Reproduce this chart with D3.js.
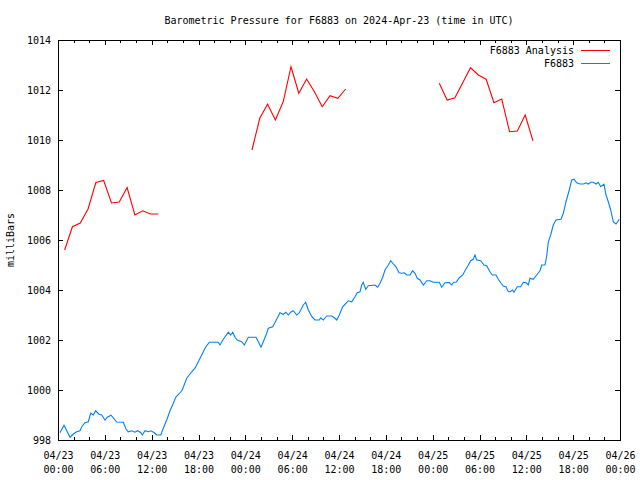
<!DOCTYPE html>
<html><head><meta charset="utf-8">
<script src="https://cdn.jsdelivr.net/npm/d3@7"></script>
<style>
body{margin:0;background:#fff;}
text{font-family:"DejaVu Sans Mono",monospace;font-size:10px;fill:#000;}
</style></head>
<body><svg id="c" width="640" height="480"></svg>
<script>
// hours after 2024-04-23 00:00 UTC
const analysisHours = [0.85,1.85,2.85,3.85,4.85,5.85,6.85,7.85,8.85,9.85,10.85,11.85,12.85,null,
  24.85,25.85,26.85,27.85,28.85,29.85,30.85,31.85,32.85,33.85,34.85,35.85,36.85,null,
  48.85,49.85,50.85,51.85,52.85,53.85,54.85,55.85,56.85,57.85,58.85,59.85,60.85];
const analysisValues = [1005.6,1006.53,1006.68,1007.24,1008.3,1008.38,1007.48,1007.52,1008.1,1007.0,1007.17,1007.04,1007.04,null,
  1009.6,1010.87,1011.43,1010.8,1011.53,1012.93,1011.87,1012.44,1011.93,1011.33,1011.77,1011.67,1012.04,null,
  1012.27,1011.6,1011.69,1012.29,1012.89,1012.6,1012.43,1011.49,1011.64,1010.33,1010.36,1011.0,1009.97];

const obsHours = [0.26,0.77,1.54,1.96,2.40,2.82,3.04,3.46,3.88,4.19,4.52,4.83,5.25,5.60,6.02,6.32,6.79,7.52,8.37,8.71,9.01,9.44,9.86,10.21,10.63,10.80,11.15,11.57,11.91,12.34,12.64,13.16,13.49,13.93,14.35,14.77,15.08,15.50,15.92,
  16.49,17.13,17.55,17.97,18.41,18.83,19.38,20.54,20.75,21.18,21.82,22.12,22.38,22.68,22.97,23.53,23.87,24.38,25.37,25.66,26.01,26.30,26.74,26.94,27.51,28.02,28.44,28.86,29.21,29.50,29.81,30.14,30.58,30.88,31.43,31.73,32.07,
  32.50,32.92,33.48,33.65,33.99,34.42,35.06,35.49,35.71,36.04,36.47,36.90,37.19,37.63,38.05,38.34,38.69,38.91,39.11,39.42,39.75,40.61,40.96,41.25,41.60,41.89,42.32,42.62,42.96,43.30,43.69,44.03,44.37,44.67,45.10,45.44,45.74,46.03,46.38,46.80,47.24,47.66,48.08,48.85,49.16,49.58,50.13,50.44,50.67,51.03,51.41,51.85,52.14,52.57,52.87,53.20,53.42,53.64,54.15,54.58,54.92,55.34,55.64,56.11,56.41,56.72,57.05,57.39,57.69,57.91,58.25,58.42,58.84,59.28,59.61,59.96,60.25,60.47,60.89,61.33,61.75,61.97,62.39,62.61,62.82,63.12,63.45,63.80,64.44,64.74,65.08,65.50,65.81,66.11,66.45,66.88,67.30,67.64,67.94,68.25,68.58,68.93,69.22,69.53,69.95,70.21,70.50,70.81,71.14,71.49,71.91];
const obsValues = [998.29,998.59,998.11,998.24,998.33,998.37,998.53,998.69,998.73,999.07,999.00,999.17,999.03,999.00,998.80,998.91,998.99,998.72,998.71,998.44,998.33,998.37,998.31,998.37,998.29,998.20,998.37,998.33,998.37,998.29,998.20,998.20,998.47,998.80,999.17,999.47,999.71,999.84,1000.00,
  1000.47,1000.73,1000.87,1001.13,1001.40,1001.67,1001.91,1001.91,1001.80,1002.03,1002.31,1002.20,1002.31,1002.11,1002.00,1001.93,1001.80,1002.11,1002.11,1001.93,1001.71,1001.93,1002.27,1002.47,1002.53,1002.83,1003.09,1003.03,1003.11,1003.00,1003.11,1003.17,1003.00,1003.07,1003.40,1003.51,1003.20,
  1002.94,1002.80,1002.80,1002.89,1002.80,1002.96,1002.96,1002.87,1002.80,1003.00,1003.33,1003.47,1003.57,1003.53,1003.73,1003.89,1003.93,1004.20,1004.31,1004.03,1004.17,1004.20,1004.11,1004.27,1004.51,1004.80,1005.00,1005.17,1005.04,1004.93,1004.69,1004.67,1004.69,1004.60,1004.60,1004.77,1004.67,1004.47,1004.40,1004.20,1004.37,1004.37,1004.31,1004.31,1004.11,1004.29,1004.30,1004.20,1004.30,1004.32,1004.49,1004.60,1004.77,1005.00,1005.17,1005.23,1005.40,1005.20,1005.17,1005.00,1004.97,1004.73,1004.60,1004.60,1004.43,1004.29,1004.16,1004.13,1003.93,1003.93,1004.00,1003.91,1004.13,1004.13,1004.31,1004.29,1004.20,1004.47,1004.43,1004.60,1004.77,1005.00,1005.00,1005.36,1005.93,1006.20,1006.60,1006.80,1006.83,1007.07,1007.53,1008.00,1008.40,1008.43,1008.29,1008.24,1008.24,1008.29,1008.24,1008.31,1008.31,1008.24,1008.31,1008.13,1008.23,1007.80,1007.53,1007.20,1006.73,1006.64,1006.83];

const yTicks = [998,1000,1002,1004,1006,1008,1010,1012,1014];
const seriesNames = ["F6883 Analysis","F6883"];
const seriesColors = ["#ff0000","#0080ff"];
const titleText = "Barometric Pressure for F6883 on 2024-Apr-23 (time in UTC)";
const yLabel = "milliBars";

const t0 = Date.UTC(2024,3,23,0,0);
const toDate = h => h == null ? null : new Date(t0 + h*3600000);

const L=58,R=620,T=40,B=440;
const svg = d3.select("#c");
const x = d3.scaleUtc().domain([new Date(t0), new Date(t0+72*3600000)]).range([L,R]);
const y = d3.scaleLinear().domain([998,1014]).range([B,T]);

const majorX = d3.utcHour.every(6).range(new Date(t0), new Date(t0+72*3600000+1));
const minorX = d3.utcHour.every(2).range(new Date(t0), new Date(t0+72*3600000+1));

// axes via d3 axis generators
const fmtD = d3.utcFormat("%m/%d"), fmtT = d3.utcFormat("%H:%M");
const gx = svg.append("g").attr("transform",`translate(0,${B})`)
  .call(d3.axisBottom(x).tickValues(majorX).tickSize(0).tickPadding(0).tickFormat(""));
gx.select(".domain").remove();
gx.selectAll(".tick").each(function(d){
  const g=d3.select(this);
  g.append("text").attr("y",19).attr("text-anchor","middle").text(fmtD(d));
  g.append("text").attr("y",33).attr("text-anchor","middle").text(fmtT(d));
});
const gy = svg.append("g").attr("transform",`translate(${L},0)`)
  .call(d3.axisLeft(y).tickValues(yTicks).tickSize(0).tickPadding(7).tickFormat(d3.format("d")));
gy.select(".domain").remove();
gy.selectAll("text").attr("font-family","DejaVu Sans Mono").attr("font-size",10).attr("fill","#000");

// tick marks (inward, mirrored)
const tk = svg.append("g").attr("stroke","#000").attr("stroke-width",1).attr("shape-rendering","crispEdges");
minorX.forEach(d=>{
  const maj = majorX.some(m=>+m===+d);
  const len = maj?5:3;
  const xx = Math.round(x(d))+0.5;
  tk.append("line").attr("x1",xx).attr("x2",xx).attr("y1",B).attr("y2",B-len);
  tk.append("line").attr("x1",xx).attr("x2",xx).attr("y1",T).attr("y2",T+len);
});
yTicks.forEach(v=>{
  const yy = Math.round(y(v))+0.5;
  tk.append("line").attr("x1",L).attr("x2",L+5).attr("y1",yy).attr("y2",yy);
  tk.append("line").attr("x1",R).attr("x2",R-5).attr("y1",yy).attr("y2",yy);
});
svg.append("rect").attr("x",L+0.5).attr("y",T+0.5).attr("width",R-L).attr("height",B-T)
  .attr("fill","none").attr("stroke","#000").attr("shape-rendering","crispEdges");

// series
const line = d3.line().defined(d=>d[0]!=null && d[1]!=null).x(d=>x(d[0])).y(d=>y(d[1]));
const aData = analysisHours.map((h,i)=>[toDate(h), analysisValues[i]]);
const oData = obsHours.map((h,i)=>[toDate(h), obsValues[i]]);
svg.append("path").datum(aData).attr("d",line).attr("fill","none").attr("stroke",seriesColors[0]).attr("stroke-width",1.1);
svg.append("path").datum(oData).attr("d",line).attr("fill","none").attr("stroke",seriesColors[1]).attr("stroke-width",1.1);

// title and y label
svg.append("text").attr("x",339).attr("y",24).attr("text-anchor","middle").text(titleText);
svg.append("text").attr("transform","translate(14,240) rotate(-90)").attr("text-anchor","middle").text(yLabel);

// legend
seriesNames.forEach((n,i)=>{
  const yy = 50 + i*13;
  svg.append("text").attr("x",574).attr("y",yy+4).attr("text-anchor","end").text(n);
  svg.append("line").attr("x1",581).attr("x2",610).attr("y1",yy+0.5).attr("y2",yy+0.5)
    .attr("stroke",seriesColors[i]).attr("stroke-width",1).attr("shape-rendering","crispEdges");
});
</script></body></html>
